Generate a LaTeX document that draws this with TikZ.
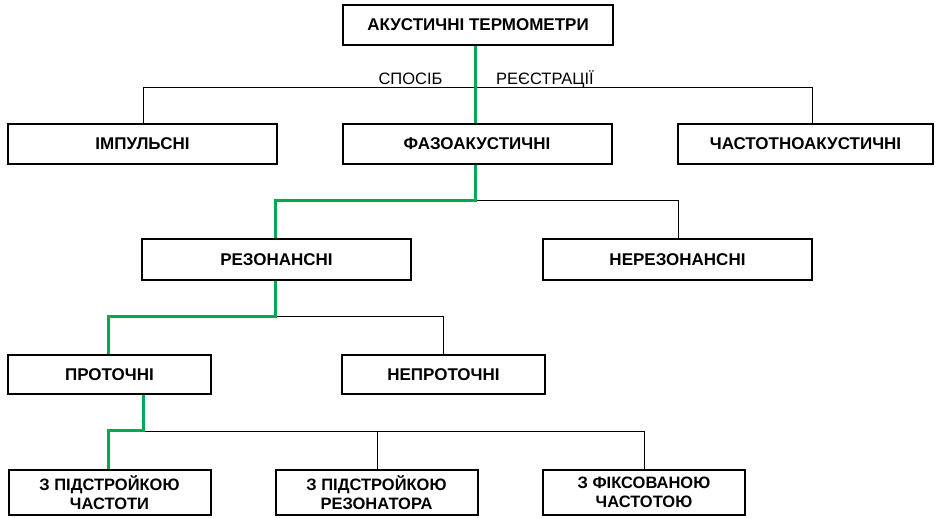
\documentclass[tikz,border=0pt]{standalone}
\usepackage{fontspec}
\setmainfont{Liberation Sans}
\begin{document}
\definecolor{pathgreen}{RGB}{0,170,80}
\begin{tikzpicture}[x=1pt,y=-1pt,
  box/.style={draw=black,line width=2pt,fill=white,inner sep=0pt,
    font=\fontsize{17}{19}\selectfont\bfseries,align=center},
  wide/.style={box,minimum width=269pt,minimum height=40pt},
  narrow/.style={box,minimum width=203pt,minimum height=39pt},
  twoline/.style={box,minimum width=202pt,minimum height=45pt,
    font=\fontsize{16.5}{19.5}\selectfont\bfseries},
  link/.style={draw=black,line width=0.9pt},
  chosen/.style={draw=pathgreen,line width=3pt},
  buslabel/.style={font=\fontsize{16.5}{18}\selectfont,inner sep=0pt}]
\useasboundingbox (0,0) rectangle (937,517);

% junction points of the tree
\coordinate (busL) at (143,87);
\coordinate (busR) at (812,87);
\coordinate (j1) at (475,200);
\coordinate (j2) at (275,316);
\coordinate (j3) at (143,431);

% boxes
\node[box,minimum width=270pt,minimum height=40pt] (top) at (478,25) {АКУСТИЧНІ ТЕРМОМЕТРИ};
\node[wide] (imp) at (142.5,144) {ІМПУЛЬСНІ};
\node[wide] (fazo) at (477,144) {ФАЗОАКУСТИЧНІ};
\node[box,minimum width=255pt,minimum height=40pt] (chast) at (805.5,144) {ЧАСТОТНОАКУСТИЧНІ};
\node[wide,minimum height=41pt] (rez) at (276.5,259.5) {РЕЗОНАНСНІ};
\node[wide,minimum height=41pt] (nerez) at (677.5,259.5) {НЕРЕЗОНАНСНІ};
\node[narrow] (prot) at (109.5,374.5) {ПРОТОЧНІ};
\node[narrow] (neprot) at (443.5,374.5) {НЕПРОТОЧНІ};
\node[twoline] (b1) at (109.5,492.5) {З ПІДСТРОЙКОЮ\\ЧАСТОТИ};
\node[twoline] (b2) at (376.5,492.5) {З ПІДСТРОЙКОЮ\\РЕЗОНАТОРА};
\node[twoline] (b3) at (644,492.5) {З ФІКСОВАНОЮ\\ЧАСТОТОЮ};

% black branches
\draw[link] (busL |- imp.north) -- (busL) -- (busR) -- (busR |- chast.north);
\draw[link] (j1) -- (678,200) -- (678,200 |- nerez.north);
\draw[link] (j2) -- (443,316) -- (443,316 |- neprot.north);
\draw[link] (j3) -- (644,431) -- (644,431 |- b3.north);
\draw[link] (377,431) -- (377,431 |- b2.north);

% highlighted route
\draw[chosen] (475,0 |- top.south) -- (475,0 |- fazo.north);
\draw[chosen] (475,0 |- fazo.south) -- (j1) -- (275,200) -- (275,0 |- rez.north);
\draw[chosen] (275,0 |- rez.south) -- (j2) -- (108,316) -- (108,0 |- prot.north);
\draw[chosen] (143,0 |- prot.south) -- (143,430) -- (108,430) -- (108,0 |- b1.north);

% captions on the top bus
\node[buslabel] (way) at (410.5,79) {СПОСІБ};
\node[buslabel] (reg) at (545,79) {РЕЄСТРАЦІЇ};
\end{tikzpicture}
\end{document}
